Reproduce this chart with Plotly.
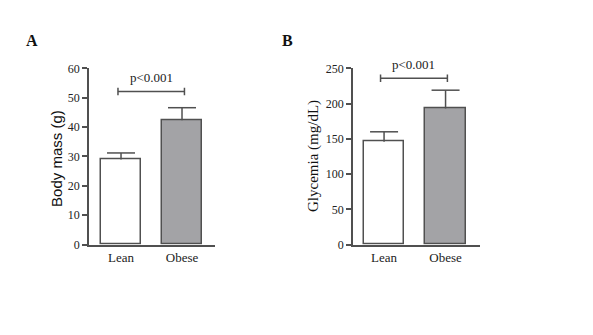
import plotly.graph_objects as go

# Group labels and measurements (mean + upper SD)
groups = ["Lean", "Obese"]
body_mass = [29.0, 42.3]
body_mass_err = [2.2, 4.3]
glycemia = [146, 193]
glycemia_err = [14, 26]

# Significance brackets: (left x, right x, height, label)
bracket_a = (-0.05, 1.04, 52.1, "p<0.001")
bracket_b = (-0.057, 1.03, 236, "p<0.001")

W, H = 593, 335
fill_colors = ["#ffffff", "#a3a3a6"]
edge = "#505050"
serif = "Liberation Serif, Times New Roman, serif"
sans = "Liberation Sans, Arial, sans-serif"

def px_x(p):
    return p / W

def px_y(p):
    return 1 - p / H

fig = go.Figure()
xs = [0, 1]


def add_panel(means, errs, xa, ya):
    fig.add_trace(go.Bar(
        x=xs, y=means, width=0.66,
        marker=dict(color=fill_colors, line=dict(color=edge, width=1.5)),
        xaxis=xa, yaxis=ya, showlegend=False,
    ))
    # Upper-only error bars: stem from bar top plus a cap at mean + SD
    stem_x, stem_y = [], []
    for xi, m, e in zip(xs, means, errs):
        stem_x += [xi, xi, None]
        stem_y += [m, m + e, None]
    fig.add_trace(go.Scatter(
        x=stem_x, y=stem_y, mode="lines", line=dict(color=edge, width=1.5),
        xaxis=xa, yaxis=ya, showlegend=False, hoverinfo="skip",
    ))
    fig.add_trace(go.Scatter(
        x=xs, y=[m + e for m, e in zip(means, errs)], mode="markers",
        marker=dict(symbol="line-ew", size=20, line=dict(color=edge, width=1.5)),
        xaxis=xa, yaxis=ya, showlegend=False, cliponaxis=False,
    ))


add_panel(body_mass, body_mass_err, "x", "y")
add_panel(glycemia, glycemia_err, "x2", "y2")

ydom = [px_y(248), px_y(64)]
common_y = dict(showline=True, linecolor=edge, linewidth=1.5, ticks="outside",
                ticklen=5, tickwidth=1.5, tickcolor=edge, showgrid=False, zeroline=False,
                tickfont=dict(family=serif, size=12, color="#222222"), domain=ydom)
common_x = dict(showline=True, linecolor=edge, linewidth=1.5, ticks="", showgrid=False,
                zeroline=False, tickvals=xs, ticktext=groups,
                tickfont=dict(family=serif, size=13, color="#222222"))

fig.update_layout(
    width=W, height=H, margin=dict(l=0, r=0, t=0, b=0),
    paper_bgcolor="white", plot_bgcolor="white", bargap=0,
    xaxis=dict(domain=[px_x(89), px_x(215)], range=[-0.525, 1.541], anchor="y", **common_x),
    yaxis=dict(range=[0, 60], tickvals=[0, 10, 20, 30, 40, 50, 60], anchor="x", **common_y),
    xaxis2=dict(domain=[px_x(353), px_x(480)], range=[-0.505, 1.56], anchor="y2", **common_x),
    yaxis2=dict(range=[0, 250], tickvals=[0, 50, 100, 150, 200, 250], anchor="x2", **common_y),
)

# Significance brackets with end ticks
for (x0, x1, yb, label), xr, yr, tick in [(bracket_a, "x", "y", 1.3), (bracket_b, "x2", "y2", 5.4)]:
    line = dict(color=edge, width=1.5)
    fig.add_shape(type="line", xref=xr, yref=yr, x0=x0, x1=x1, y0=yb, y1=yb, line=line)
    for xe in (x0, x1):
        fig.add_shape(type="line", xref=xr, yref=yr, x0=xe, x1=xe, y0=yb - tick, y1=yb + tick, line=line)
    fig.add_annotation(xref=xr, yref=yr, x=(x0 + x1) / 2, y=yb, yshift=14, text=label,
                       showarrow=False, xanchor="center", yanchor="middle",
                       font=dict(family=serif, size=13, color="#222222"))

# Axis titles
fig.add_annotation(xref="paper", yref="paper", x=px_x(57), y=px_y(157.5), text="Body mass (g)",
                   textangle=-90, showarrow=False, xanchor="center", yanchor="middle",
                   font=dict(family=sans, size=15, color="#111111"))
fig.add_annotation(xref="paper", yref="paper", x=px_x(313), y=px_y(155.5), text="Glycemia (mg/dL)",
                   textangle=-90, showarrow=False, xanchor="center", yanchor="middle",
                   font=dict(family=serif, size=15, color="#111111"))

# Panel letters
for letter, xp in [("A", 32), ("B", 287)]:
    fig.add_annotation(xref="paper", yref="paper", x=px_x(xp), y=px_y(35), text=f"<b>{letter}</b>",
                       showarrow=False, xanchor="center", yanchor="middle",
                       font=dict(family=serif, size=16, color="#111111"))

fig.write_html("out.html")
